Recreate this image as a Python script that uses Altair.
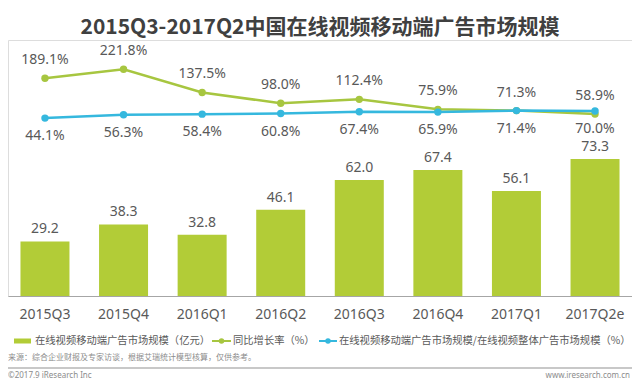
import altair as alt
import pandas as pd

quarters = ["2015Q3", "2015Q4", "2016Q1", "2016Q2", "2016Q3", "2016Q4", "2017Q1", "2017Q2e"]
market = [29.2, 38.3, 32.8, 46.1, 62.0, 67.4, 56.1, 73.3]
yoy = [189.1, 221.8, 137.5, 98.0, 112.4, 75.9, 71.3, 58.9]
share = [44.1, 56.3, 58.4, 60.8, 67.4, 65.9, 71.4, 70.0]

title_text = "2015Q3-2017Q2中国在线视频移动端广告市场规模"
legend_labels = ["在线视频移动端广告市场规模（亿元）", "同比增长率（%）",
                 "在线视频移动端广告市场规模/在线视频整体广告市场规模（%）"]
source_text = "来源：综合企业财报及专家访谈，根据艾瑞统计模型核算，仅供参考。"
footer_left = "©2017.9 iResearch Inc"
footer_right = "www.iresearch.com.cn"

df = pd.DataFrame({
    "q": quarters,
    "market": market,
    "yoy": yoy,
    "share": share,
    "yoy_lbl": [f"{v:.1f}%" for v in yoy],
    "share_lbl": [f"{v:.1f}%" for v in share],
})

BAR = "#b2cc37"
GREEN = "#a7c640"
BLUE = "#35b8de"
TXT = "#595959"
FONT = "Noto Sans CJK SC"
NUM = "Noto Sans"

x = alt.X("q:N", sort=quarters, title=None,
          scale=alt.Scale(paddingInner=0.377, paddingOuter=0.159),
          axis=alt.Axis(labelAngle=0, labelFontSize=14, labelColor=TXT, labelFont=NUM,
                        ticks=False, domainColor="#a6a6a6", domainWidth=1.2,
                        labelPadding=11, grid=False))

bar_y = alt.Y("market:Q", axis=None, scale=alt.Scale(domain=[0, 136.9], nice=False, zero=True))
line_scale = alt.Scale(domain=[-603.8, 328.5], nice=False, zero=False)

base = alt.Chart(df)

bars = base.mark_bar(color=BAR, size=49).encode(x=x, y=bar_y)
bar_txt = base.mark_text(dy=-12, baseline="middle", fontSize=14, font=NUM, color=TXT).encode(
    x=x, y=bar_y, text=alt.Text("market:Q", format=".1f"))

g_line = base.mark_line(color=GREEN, strokeWidth=2.5).encode(
    x=x, y=alt.Y("yoy:Q", axis=None, scale=line_scale))
g_pts = base.mark_circle(color=GREEN, size=55, opacity=1).encode(
    x=x, y=alt.Y("yoy:Q", axis=None, scale=line_scale))
g_txt = base.mark_text(dy=-18, baseline="middle", fontSize=14, font=NUM, color=TXT).encode(
    x=x, y=alt.Y("yoy:Q", axis=None, scale=line_scale), text="yoy_lbl:N")

b_line = base.mark_line(color=BLUE, strokeWidth=2.5).encode(
    x=x, y=alt.Y("share:Q", axis=None, scale=line_scale))
b_pts = base.mark_circle(color=BLUE, size=55, opacity=1).encode(
    x=x, y=alt.Y("share:Q", axis=None, scale=line_scale))
b_txt = base.mark_text(dy=18, baseline="middle", fontSize=14, font=NUM, color=TXT).encode(
    x=x, y=alt.Y("share:Q", axis=None, scale=line_scale), text="share_lbl:N")

one = alt.Chart(pd.DataFrame({"k": [0]}))
LY = 301
LFS = 10.3
leg = [
    one.mark_rule(color=BAR, strokeWidth=5).encode(x=alt.value(6), x2=alt.value(23), y=alt.value(LY)),
    one.mark_text(align="left", baseline="middle", fontSize=LFS, font=FONT, color=TXT).encode(
        x=alt.value(27), y=alt.value(LY), text=alt.value(legend_labels[0])),
    one.mark_rule(color=GREEN, strokeWidth=2).encode(x=alt.value(204), x2=alt.value(223), y=alt.value(LY)),
    one.mark_circle(color=GREEN, size=30, opacity=1).encode(x=alt.value(213.5), y=alt.value(LY)),
    one.mark_text(align="left", baseline="middle", fontSize=LFS, font=FONT, color=TXT).encode(
        x=alt.value(225), y=alt.value(LY), text=alt.value(legend_labels[1])),
    one.mark_rule(color=BLUE, strokeWidth=2).encode(x=alt.value(311), x2=alt.value(329), y=alt.value(LY)),
    one.mark_circle(color=BLUE, size=30, opacity=1).encode(x=alt.value(320), y=alt.value(LY)),
    one.mark_text(align="left", baseline="middle", fontSize=LFS, font=FONT, color=TXT).encode(
        x=alt.value(331), y=alt.value(LY), text=alt.value(legend_labels[2])),
    one.mark_text(align="left", baseline="middle", fontSize=8, font=FONT, color="#8c8c8c").encode(
        x=alt.value(0), y=alt.value(318), text=alt.value(source_text)),
    one.mark_rule(color="#c8c8c8", strokeWidth=2).encode(x=alt.value(0), x2=alt.value(624), y=alt.value(328)),
    one.mark_text(align="left", baseline="middle", fontSize=8, font=NUM, color="#8c8c8c").encode(
        x=alt.value(0), y=alt.value(336), text=alt.value(footer_left)),
    one.mark_text(align="right", baseline="middle", fontSize=8, font=NUM, color="#8c8c8c").encode(
        x=alt.value(622), y=alt.value(336), text=alt.value(footer_right)),
]

chart = alt.layer(
    bars, bar_txt, g_line, g_pts, g_txt, b_line, b_pts, b_txt, *leg
).resolve_scale(y="independent").properties(
    width=624, height=256,
    autosize=alt.AutoSizeParams(type="none"),
    padding={"left": 0, "top": 32, "right": 0, "bottom": 85},
    title=alt.TitleParams(title_text, fontSize=21, fontWeight="bold", color="#404040",
                          font=FONT, anchor="middle", offset=2),
).configure_view(stroke=None).configure(background="white")

chart.save("out.html", embed_options={"renderer": "svg", "actions": False})
